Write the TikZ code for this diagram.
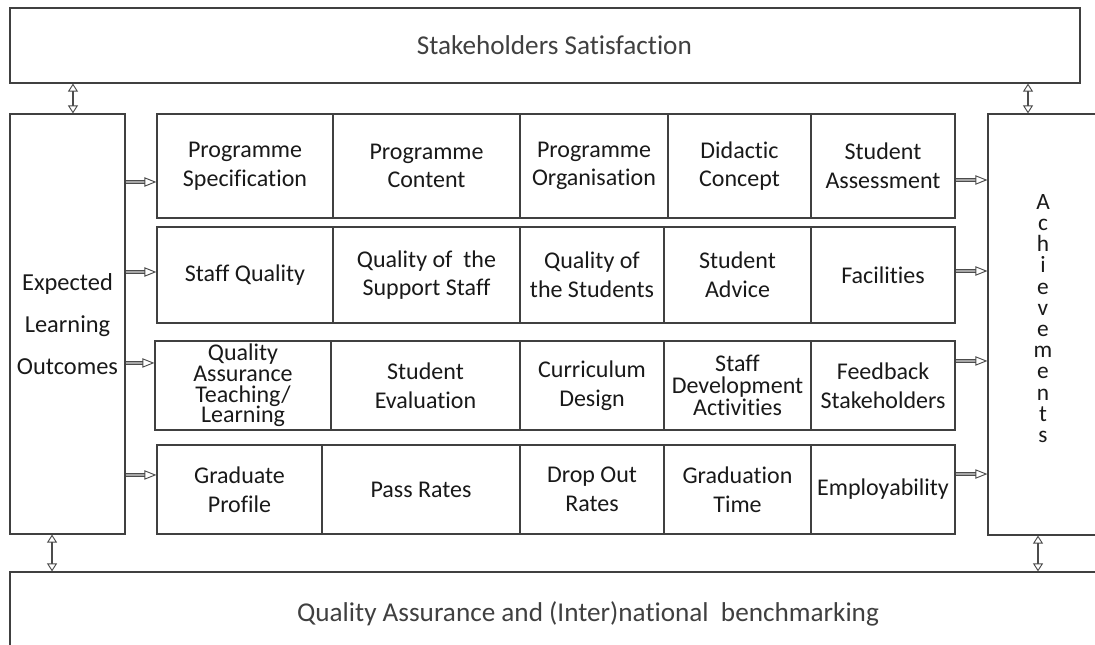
\documentclass[tikz,border=0pt]{standalone}
\usepackage{fontspec}
\setmainfont{Carlito}[Ligatures=NoCommon]
\usepackage{tikz}
\usetikzlibrary{arrows.meta}

\begin{document}
\begin{tikzpicture}[x=0.75pt, y=-0.75pt,
  box/.style = {draw=black!75, line width=0.9pt, align=center, inner sep=0pt, text=black!90},
  cell/.style = {box, font=\fontsize{18}{21.5}\selectfont},
  big/.style = {box, text=black!75, font=\fontsize{20.4}{24}\selectfont},
  flow/.style = {draw=black!70, double=black!35, double distance=1.3pt, line width=0.7pt,
                 -{Triangle[open, length=9pt, width=7pt]}},
  both/.style = {draw=black!70, line width=1.8pt,
                 {Triangle[open, length=6pt, width=7.5pt, line width=0.7pt]}-{Triangle[open, length=6pt, width=7.5pt, line width=0.7pt]}}]
\useasboundingbox (0,0) rectangle (1095,645);

% outer frame
\node[big, minimum width=802.5pt, minimum height=56.25pt] (sat) at (545,45.5) {\hspace*{14pt}Stakeholders Satisfaction};
\node[big, minimum width=867pt, minimum height=63pt] (qa) at (588,614) {Quality Assurance and (Inter)national\ \ benchmarking};
\node[box, font=\fontsize{18.3}{31.5}\selectfont, minimum width=86.25pt, minimum height=315pt] (elo) at (67.5,324) {Expected\\Learning\\Outcomes};
\node[box, font=\fontsize{17.5}{15.9}\selectfont, minimum width=82.5pt, minimum height=315.75pt] (ach) at (1043,324.5) {A\\c\\h\\i\\e\\v\\e\\m\\e\\n\\t\\s\\[-6.9pt]};

% row 1
\node[cell, minimum width=132pt, minimum height=78pt] (r1c1) at (245,166) {Programme\\Specification};
\node[cell, minimum width=140.25pt, minimum height=78pt] (r1c2) at (426.5,166) {Programme\\Content};
\node[cell, minimum width=111pt, minimum height=78pt] (r1c3) at (594,166) {Programme\\Organisation};
\node[cell, minimum width=107.25pt, minimum height=78pt] (r1c4) at (739.5,166) {Didactic\\Concept};
\node[cell, minimum width=108pt, minimum height=78pt] (r1c5) at (883,166) {Student\\Assessment};

% row 2
\node[cell, minimum width=132pt, minimum height=72pt] (r2c1) at (245,275) {Staff Quality};
\node[cell, minimum width=140.25pt, minimum height=72pt] (r2c2) at (426.5,275) {Quality of\ \ the\\Support Staff};
\node[cell, minimum width=108pt, minimum height=72pt] (r2c3) at (592,275) {Quality of\\the Students};
\node[cell, minimum width=110.25pt, minimum height=72pt] (r2c4) at (737.5,275) {Student\\Advice};
\node[cell, minimum width=108pt, minimum height=72pt] (r2c5) at (883,275) {Facilities};

% row 3
\node[cell, font=\fontsize{18}{15.6}\selectfont, minimum width=132pt, minimum height=66.75pt] (r3c1) at (243,385.5) {Quality\\Assurance\\Teaching/\\Learning};
\node[cell, minimum width=141.75pt, minimum height=66.75pt] (r3c2) at (425.5,385.5) {Student\\Evaluation};
\node[cell, minimum width=108pt, minimum height=66.75pt] (r3c3) at (592,385.5) {Curriculum\\Design};
\node[cell, font=\fontsize{18}{16.4}\selectfont, minimum width=110.25pt, minimum height=66.75pt] (r3c4) at (737.5,385.5) {Staff\\Development\\Activities};
\node[cell, minimum width=108pt, minimum height=66.75pt] (r3c5) at (883,385.5) {Feedback\\Stakeholders};

% row 4
\node[cell, minimum width=123.75pt, minimum height=66.75pt] (r4c1) at (239.5,489.5) {Graduate\\Profile};
\node[cell, minimum width=148.5pt, minimum height=66.75pt] (r4c2) at (421,489.5) {Pass Rates};
\node[cell, minimum width=108pt, minimum height=66.75pt] (r4c3) at (592,489.5) {Drop Out\\Rates};
\node[cell, minimum width=110.25pt, minimum height=66.75pt] (r4c4) at (737.5,489.5) {Graduation\\Time};
\node[cell, minimum width=108pt, minimum height=66.75pt] (r4c5) at (883,489.5) {Employability};

% into the rows
\draw[flow] ([yshift=-12pt]r1c1.west -| elo.east) -- ([yshift=-12pt]r1c1.west);
\draw[flow] ([yshift=2.25pt]r2c1.west -| elo.east) -- ([yshift=2.25pt]r2c1.west);
\draw[flow] ([yshift=16.9pt]r3c1.west -| elo.east) -- ([yshift=16.9pt]r3c1.west);
\draw[flow] ([yshift=10.9pt]r4c1.west -| elo.east) -- ([yshift=10.9pt]r4c1.west);

% out of the rows
\draw[flow] ([yshift=-10.5pt]r1c5.east) -- ([yshift=-10.5pt]r1c5.east -| ach.west);
\draw[flow] ([yshift=3pt]r2c5.east) -- ([yshift=3pt]r2c5.east -| ach.west);
\draw[flow] ([yshift=18.4pt]r3c5.east) -- ([yshift=18.4pt]r3c5.east -| ach.west);
\draw[flow] ([yshift=11.6pt]r4c5.east) -- ([yshift=11.6pt]r4c5.east -| ach.west);

% up and down
\draw[both] ([xshift=4.1pt]elo.north |- sat.south) -- ([xshift=4.1pt]elo.north);
\draw[both] ([xshift=-11.25pt]ach.north |- sat.south) -- ([xshift=-11.25pt]ach.north);
\draw[both] ([xshift=-11.6pt]elo.south) -- ([xshift=-11.6pt]elo.south |- qa.north);
\draw[both] ([xshift=-3.75pt]ach.south) -- ([xshift=-3.75pt]ach.south |- qa.north);
\end{tikzpicture}
\end{document}
